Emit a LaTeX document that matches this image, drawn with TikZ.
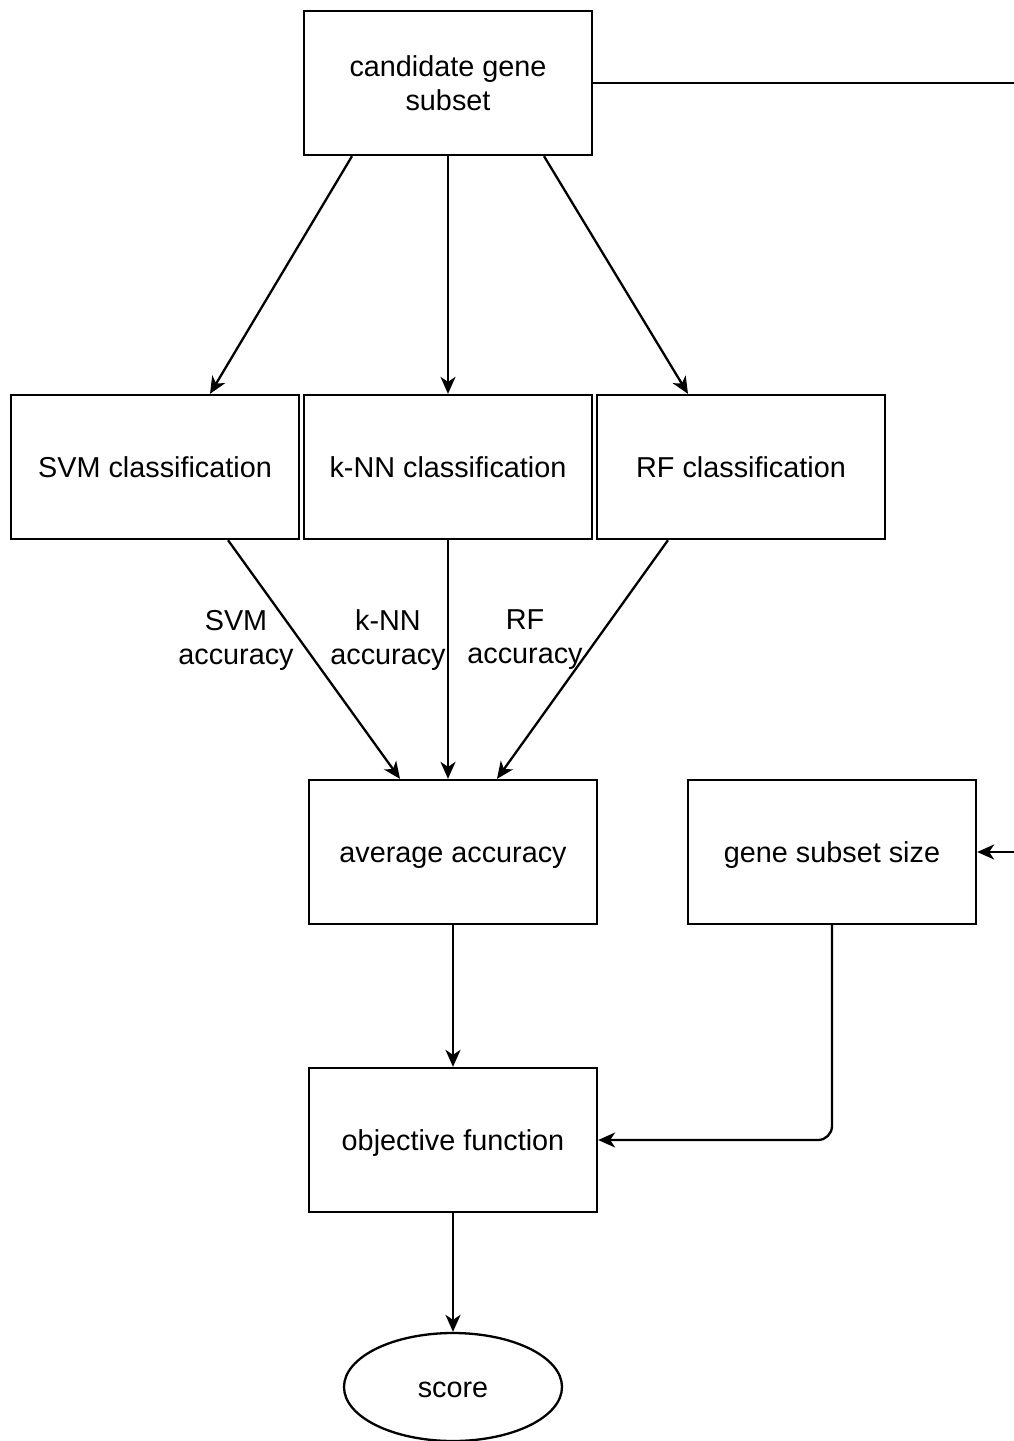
\documentclass[tikz,border=0pt]{standalone}
\usepackage{fontspec}
\setmainfont{Liberation Sans}
\usetikzlibrary{arrows.meta,shapes.geometric}
\begin{document}
\begin{tikzpicture}[x=1pt,y=-1pt,
  lw/.style={line width=2.3pt},
  box/.style={draw,lw,rectangle,minimum width=288pt,minimum height=144pt,inner sep=0pt,align=center,
    font=\fontsize{28.8}{34}\selectfont},
  oneline/.style={text height=21pt,text depth=0pt},
  oval/.style={draw,lw,ellipse,minimum width=218pt,minimum height=108pt,inner sep=0pt,
    font=\fontsize{28.8}{34}\selectfont,oneline},
  lbl/.style={align=center,inner sep=0pt,font=\fontsize{28.8}{34}\selectfont},
  conn/.style={lw,-{Stealth[length=17pt,width=15pt,inset=5pt]}},
  plain/.style={lw}]
\useasboundingbox (0,0) rectangle (1014,1441);
\clip (0,0) rectangle (1014,1441);
\node[box] (cand) at (448,83) {candidate gene\\subset};
\node[box,oneline] (svm) at (155,467) {SVM classification};
\node[box,oneline] (knn) at (448,467) {k-NN classification};
\node[box,oneline] (rf) at (741,467) {RF classification};
\node[box,oneline] (avg) at (453,852) {average accuracy};
\node[box,oneline] (size) at (832,852) {gene subset size};
\node[box,oneline] (obj) at (453,1140) {objective function};
\node[oval] (score) at (453,1387) {score};
\node[lbl] (lsvm) at (236,640) {SVM\\accuracy};
\node[lbl] (lknn) at (388,640) {k-NN\\accuracy};
\node[lbl] (lrf) at (525,640) {RF\\accuracy};
\coordinate (c1) at (1040,83);
\coordinate (c2) at (1040,852);
\draw[conn] (cand.south -| 352,0) -- (svm.north -| 210,0);
\draw[conn] (cand.south) -- (knn.north);
\draw[conn] (cand.south -| 544,0) -- (rf.north -| 688,0);
\draw[conn] (svm.south -| 228,0) -- (avg.north -| 400,0);
\draw[conn] (knn.south) -- (avg.north -| 448,0);
\draw[conn] (rf.south -| 668,0) -- (avg.north -| 497,0);
\draw[conn] (avg.south) -- (obj.north);
\draw[conn] (obj.south) -- (score.north);
\draw[conn,rounded corners=14pt] (size.south) |- (obj.east);
\draw[conn] (cand.east) -- (c1) -- (c2) -- (size.east);
\end{tikzpicture}
\end{document}
